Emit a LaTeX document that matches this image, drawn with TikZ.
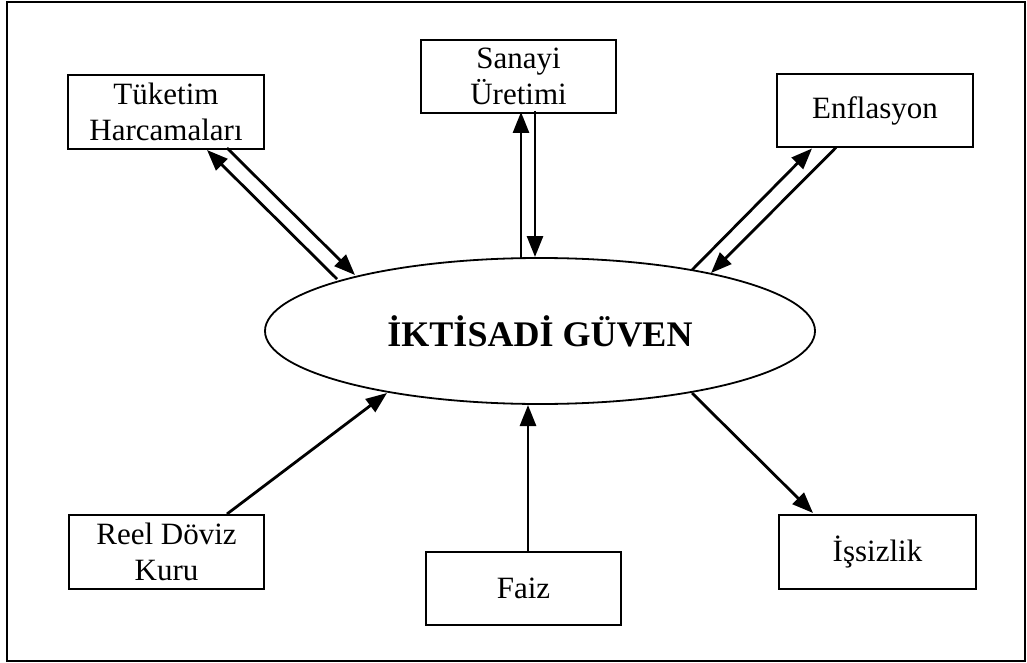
\documentclass[tikz,border=0pt]{standalone}
\usepackage{fontspec}
\setmainfont{Liberation Serif}
\usetikzlibrary{arrows.meta,calc,shapes.geometric}
\newcommand{\boxfont}{\fontsize{31}{36}\selectfont}
\newcommand{\centerfont}{\fontsize{36}{40}\selectfont\bfseries}
\begin{document}
\begin{tikzpicture}[x=1pt,y=-1pt,
  box/.style={draw, line width=2pt, minimum width=196pt, minimum height=74pt, inner sep=0pt, align=center, font=\boxfont},
  conn/.style={line width=2.8pt, -{Triangle[length=21pt,width=16pt]}},
  frame/.style={draw, line width=2pt}]
\useasboundingbox (0,0) rectangle (1027,663);
\path[frame] (7,2) rectangle (1025,661);
\node[draw, ellipse, line width=1.8pt, minimum width=550pt, minimum height=146pt, inner sep=0pt, font=\centerfont] (g) at (540,331) {İKTİSADİ GÜVEN};
\node[box] (tuk) at (166,112) {Tüketim\\Harcamaları};
\node[box, minimum width=195pt, minimum height=73pt] (san) at (518.5,76.5) {Sanayi\\Üretimi};
\node[box, minimum height=73pt] (enf) at (875,111) {Enflasyon};
\node[box, minimum width=195pt] (reel) at (166.5,552) {Reel Döviz\\Kuru};
\node[box, minimum width=195pt, minimum height=73pt] (faiz) at (523.5,588.5) {Faiz};
\node[box, minimum width=197pt] (iss) at (877.5,552) {İşsizlik};
% Tüketim
\draw[conn] ($(g.center)+(-203,-52)$) -- ($(tuk.south)+(41,0)$);
\draw[conn] ($(tuk.south)+(61,-2)$) -- ($(g.center)+(-185,-56)$);
% Sanayi
\draw[conn] ($(g.center)+(-19,-72)$) -- ($(san.south)+(2.5,-2)$);
\draw[conn] ($(san.south)+(16.5,-3)$) -- ($(g.center)+(-5,-74)$);
% Enflasyon
\draw[conn] ($(g.center)+(152,-61)$) -- ($(enf.south)+(-63,0)$);
\draw[conn] ($(enf.south)+(-39,-1)$) -- ($(g.center)+(171,-58)$);
% Reel
\draw[conn] ($(reel.north)+(60.5,0)$) -- ($(g.center)+(-153,62)$);
% Faiz
\draw[conn] ($(faiz.north)+(4.5,0)$) -- ($(g.center)+(-12,74)$);
% Issizlik
\draw[conn] ($(g.center)+(152,62)$) -- ($(iss.north)+(-64.5,-1)$);
\end{tikzpicture}
\end{document}
